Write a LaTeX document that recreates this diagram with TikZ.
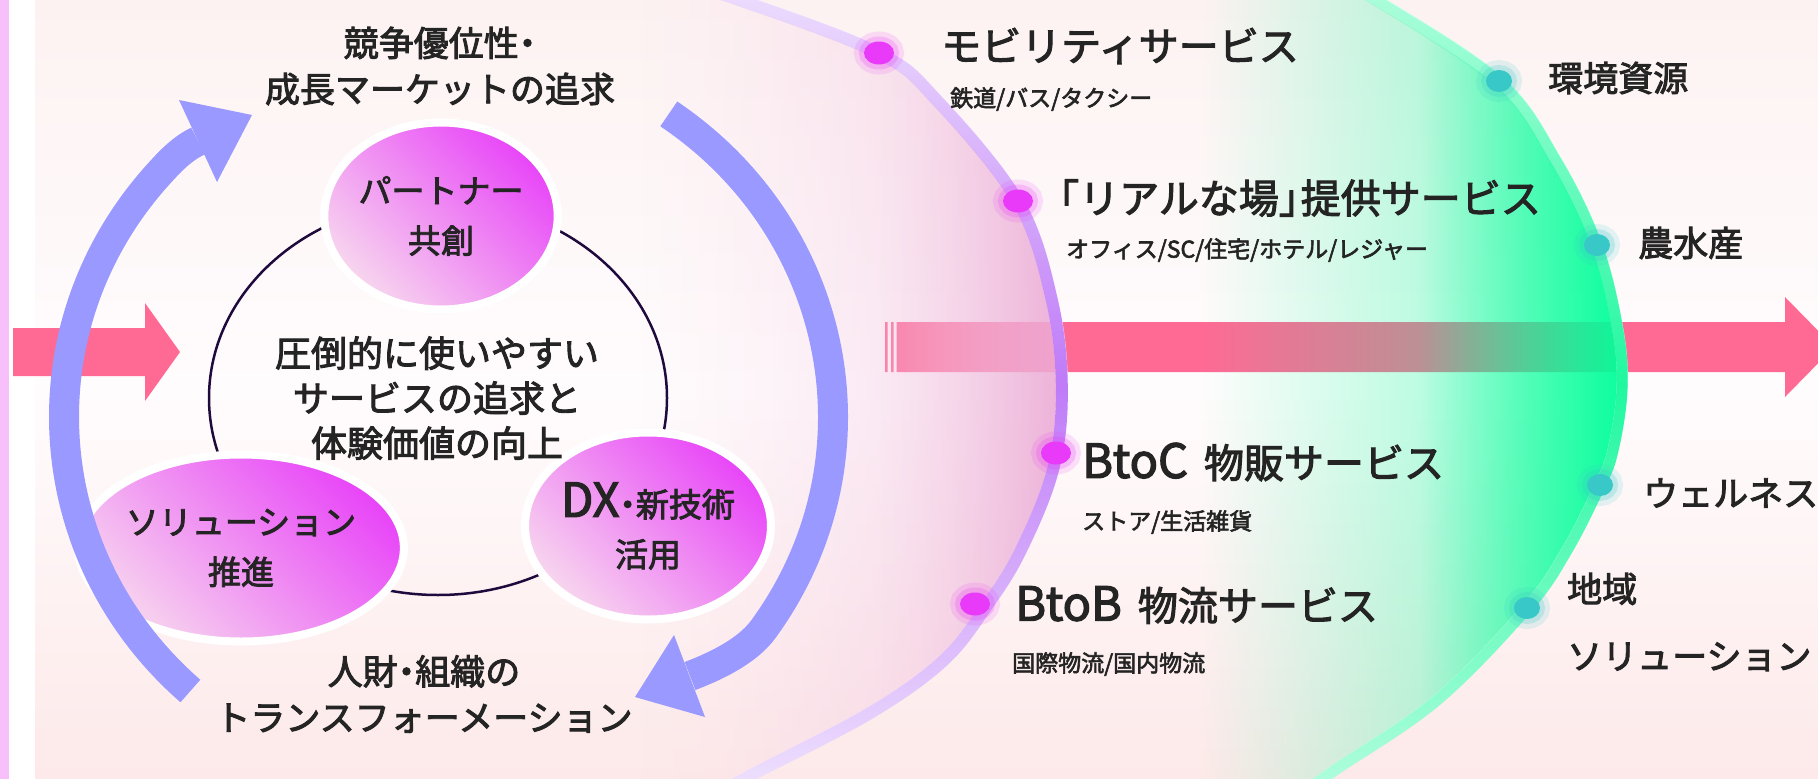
\documentclass[tikz,border=0pt]{standalone}
\usepackage{fontspec}
\newfontfamily\jpfont[FakeBold=2.6]{Noto Sans CJK JP}
\usetikzlibrary{shapes.geometric, fadings}

\definecolor{inkgray}{HTML}{242424}
\definecolor{flowpink}{HTML}{FF6A95}
\definecolor{cyclelav}{HTML}{9999FF}
\definecolor{coremag}{HTML}{E845F8}
\definecolor{corelight}{HTML}{F7D6EE}
\definecolor{ringpurple}{HTML}{1E0A3C}
\definecolor{dotpink}{HTML}{E83AF8}
\definecolor{dotteal}{HTML}{38C8C8}
\definecolor{lenspink}{HTML}{EBA8D4}
\definecolor{lenspinklight}{HTML}{F6D6EA}
\definecolor{lensgreen}{HTML}{00FF99}
\definecolor{rimviolet}{HTML}{BF7BF8}
\definecolor{rimlilac}{HTML}{F5F0FF}
\definecolor{rimmint}{HTML}{C6FFE6}
\definecolor{rimgreen}{HTML}{20F8A0}
\definecolor{bgtop}{HTML}{FDF2F2}
\definecolor{bgmid}{HTML}{FFFCFD}
\definecolor{bgbot}{HTML}{FDE9E9}
\definecolor{edgepink}{HTML}{F7C0FA}

\tikzfading[name=lens fade, left color=transparent!100, right color=transparent!0]
\tikzfading[name=rim fade, top color=transparent!90, bottom color=transparent!90, middle color=transparent!0]

\newcommand\pinkrim{plot[smooth, tension=.6] coordinates {(640,-30) (740,0) (879,53) (937,100) (1018,201) (1052,300) (1062,390) (1053,470) (1021,550) (988,604) (944,660) (870,713) (757,772) (715,795)}}
\newcommand\greenrim{plot[smooth, tension=.6] coordinates {(1330,-25) (1377,0) (1499,81) (1556,160) (1597,245) (1618,330) (1622,390) (1613,450) (1600,485) (1567,550) (1527,608) (1437,700) (1335,770) (1300,795)}}
\newcommand\jpdot{\kern-.25em・\kern-.25em}
\newcommand\latin[1]{{\fontsize{47}{48}\selectfont #1}}

\tikzset{
  cycle label/.style={font=\jpfont\fontsize{35}{46}\selectfont, text=inkgray, align=center, inner sep=0pt},
  core text/.style={font=\jpfont\fontsize{36}{45}\selectfont, text=inkgray, align=center, inner sep=0pt},
  core node/.style={ellipse, minimum width=211pt, minimum height=187pt, inner sep=0pt,
    draw=white, line width=8pt, top color=coremag, bottom color=corelight, shading angle=-45,
    font=\jpfont\fontsize{33}{50}\selectfont, text=inkgray, align=center},
  cycle arc/.style={draw=cyclelav, line width=30pt},
  service dot/.style={ellipse, minimum width=30pt, minimum height=23pt, inner sep=0pt, fill=dotpink,
    preaction={draw=dotpink, draw opacity=.14, line width=20pt},
    preaction={draw=dotpink, draw opacity=.22, line width=10pt}},
  field dot/.style={ellipse, minimum width=26pt, minimum height=22pt, inner sep=0pt, fill=dotteal,
    preaction={draw=dotteal, draw opacity=.14, line width=20pt},
    preaction={draw=dotteal, draw opacity=.22, line width=10pt}},
  service label/.style={font=\jpfont\fontsize{40}{48}\selectfont, text=inkgray, anchor=west, inner sep=0pt},
  service note/.style={font=\jpfont\fontsize{23}{28}\selectfont, text=inkgray, anchor=west, inner sep=0pt},
  field label/.style={font=\jpfont\fontsize{35}{67}\selectfont, text=inkgray, anchor=west, align=left, inner sep=0pt},
}

\begin{document}
\begin{tikzpicture}[x=1pt, y=-1pt]
  \useasboundingbox (0,0) rectangle (1818,779);
  \clip (0,0) rectangle (1818,779);

  % backdrop
  \fill[edgepink] (0,0) rectangle (9,779);
  \shade[top color=bgtop, bottom color=bgbot, middle color=bgmid] (35,0) rectangle (1818,779);

  % flow arrows
  \fill[flowpink] (13,328) -- (145,328) -- (145,303) -- (180,352) -- (145,401) -- (145,376) -- (13,376) -- cycle;
  \fill[flowpink] (885,322) rectangle (887.5,372) (891,322) rectangle (893.5,372);
  \fill[flowpink] (896.5,322) -- (1785,322) -- (1785,297) -- (1834,347) -- (1785,397) -- (1785,372) -- (896.5,372) -- cycle;

  % pink lens
  \begin{scope}
    \clip \pinkrim -- (540,795) -- (540,-30) -- cycle;
    \shade[left color=lenspinklight, right color=lenspink, path fading=lens fade, opacity=.5] (640,-30) rectangle (1062,810);
    \shade[left color=lenspinklight, right color=lenspink, path fading=lens fade, opacity=.8] (880,-30) rectangle (1062,810);
  \end{scope}
  \draw[rimlilac, line width=12pt] \pinkrim;
  \draw[rimviolet, line width=12pt, path fading=rim fade] \pinkrim;

  % green lens
  \begin{scope}
    \clip \greenrim -- (1100,795) -- (1100,-30) -- cycle;
    \fill[lensgreen, path fading=lens fade, opacity=.5] (1200,-30) rectangle (1622,810);
    \fill[lensgreen, path fading=lens fade, opacity=.9] (1420,-30) rectangle (1622,810);
  \end{scope}
  \draw[rimmint, line width=11pt] \greenrim;
  \draw[rimgreen, line width=11pt, path fading=rim fade] \greenrim;

  % cycle
  \node[draw=ringpurple, line width=2.5pt, ellipse, minimum width=458pt, minimum height=394pt] (ring) at (438,398) {};
  \node[core node] (partner) at (441,216) {パートナー\\共創};
  \node[core node] (solution) at (241,548) {ソリューション\\推進};
  \node[core node] (dx) at (648,526) {\latin{DX}\jpdot 新技術\\活用};
  \node[core text] (core) at (437,398) {圧倒的に使いやすい\\サービスの追求と\\体験価値の向上};
  \node[cycle label] (market) at (440,66) {競争優位性\jpdot\\成長マーケットの追求};
  \node[cycle label] (people) at (424,694) {人財\jpdot 組織の\\トランスフォーメーション};

  \coordinate (up start) at (190.4,691);
  \coordinate (up base) at (198,141);
  \coordinate (down start) at (668.8,113.9);
  \coordinate (down base) at (690,676);
  \draw[cycle arc] (up start) arc[start angle=132.2, end angle=220, x radius=385, y radius=370]
    .. controls (167.5,164.1) and (180,149.7) .. (up base);
  \fill[cyclelav] (252,115) -- (179,100) -- (217,182) -- cycle;
  \draw[cycle arc] (down start) arc[start angle=-55, end angle=35, x radius=385, y radius=370]
    .. controls (745.7,653.4) and (708.7,668.9) .. (down base);
  \fill[cyclelav] (635,697) -- (674,635) -- (705,717) -- cycle;

  % services on the pink lens
  \node[service dot] (mobility dot) at (879,53) {};
  \node[service dot] (place dot) at (1018,201) {};
  \node[service dot] (btoc dot) at (1056,453) {};
  \node[service dot] (btob dot) at (975,604) {};
  \node[service label] (mobility) at (941,46) {モビリティサービス};
  \node[service note] (mobility note) at (950,99) {鉄道/バス/タクシー};
  \node[service label] (place) at (1039,198) {「リアルな場」\kern-.45em 提供サービス};
  \node[service note] (place note) at (1066,250) {オフィス/SC/住宅/ホテル/レジャー};
  \node[service label] (btoc) at (1082,462) {\latin{BtoC}\hspace{0.4em}物販サービス};
  \node[service note] (btoc note) at (1082,522) {ストア/生活雑貨};
  \node[service label] (btob) at (1015,605) {\latin{BtoB}\hspace{0.4em}物流サービス};
  \node[service note] (btob note) at (1012,664) {国際物流/国内物流};

  % fields on the green lens
  \node[field dot] (env dot) at (1499,81) {};
  \node[field dot] (agri dot) at (1597,245) {};
  \node[field dot] (well dot) at (1600,485) {};
  \node[field dot] (region dot) at (1527,608) {};
  \node[field label] (env) at (1548,78) {環境資源};
  \node[field label] (agri) at (1638,243) {農水産};
  \node[field label] (well) at (1643,493) {ウェルネス};
  \node[field label] (region) at (1567,622) {地域\\ソリューション};
\end{tikzpicture}
\end{document}
